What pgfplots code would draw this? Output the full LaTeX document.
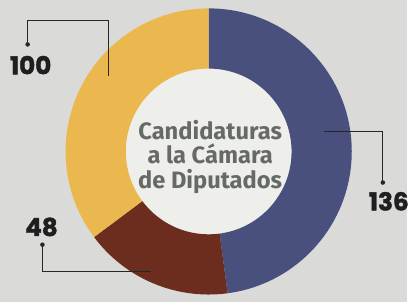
\documentclass[border=0pt]{standalone}
\usepackage{pgfplots}
\pgfplotsset{compat=1.18}
\usepackage{pgfplotstable}
\usepackage{fontspec}
\setmainfont{Fira Sans}
\newfontfamily\numfont[BoldFeatures={FakeBold=1.6}]{Poppins}
\definecolor{cblue}{RGB}{74,80,126}
\definecolor{cbrown}{RGB}{108,44,30}
\definecolor{cyellow}{RGB}{234,184,78}
\definecolor{bg}{RGB}{218,218,216}
\definecolor{hole}{RGB}{238,239,235}
\definecolor{ctxt}{RGB}{102,106,102}
\pgfplotstableread{
label value
136 136
48 48
100 100
}\datatable
\newcommand\donutseg[3]{%
  \fill[#3] ([shift={(axis cs:211.5,152.5)}]#1:145pt) arc[start angle=#1,end angle=#2,radius=145pt]
    -- ([shift={(axis cs:211.5,152.5)}]#2:84pt) arc[start angle=#2,end angle=#1,radius=84pt] -- cycle;}
\begin{document}
\begin{tikzpicture}
\pgfplotstablegetelem{0}{value}\of\datatable\let\va\pgfplotsretval
\pgfplotstablegetelem{1}{value}\of\datatable\let\vb\pgfplotsretval
\pgfplotstablegetelem{2}{value}\of\datatable\let\vc\pgfplotsretval
\pgfmathsetmacro\tot{\va+\vb+\vc}
\pgfmathsetmacro\aA{90}
\pgfmathsetmacro\aB{90-360*(\va/\tot)}
\pgfmathsetmacro\aC{\aB-360*(\vb/\tot)}
\pgfmathsetmacro\aD{\aC-360*(\vc/\tot)}
\begin{axis}[scale only axis, width=412pt, height=306pt,
  xmin=0, xmax=412, ymin=0, ymax=306, hide axis, clip=false]
\fill[bg] (axis cs:0,0) rectangle (axis cs:412,306);
\fill[hole] (axis cs:211.5,152.5) circle[radius=85pt];
\donutseg{\aA}{\aB}{cblue}
\donutseg{\aB}{\aC}{cbrown}
\donutseg{\aC}{\aD}{cyellow}
\node[align=center, text=ctxt, font=\bfseries\fontsize{24}{24.5}\selectfont] at (axis cs:213,147) {Candidaturas\\a la Cámara\\de Diputados};
\draw[line width=1.3pt, black!85] (axis cs:28,261) |- (axis cs:110,285) -- (axis cs:110,229);
\fill[black!85] (axis cs:28,261) circle[radius=2.3pt];
\draw[line width=1.3pt, black!85] (axis cs:328,173) -| (axis cs:388,121);
\fill[black!85] (axis cs:388,121) circle[radius=2.3pt];
\draw[line width=1.3pt, black!85] (axis cs:43,58) |- (axis cs:153,31);
\fill[black!85] (axis cs:43,58) circle[radius=2.3pt];
\node[font=\numfont\bfseries\fontsize{25}{25}\selectfont, text=black!88] at (axis cs:31,240) {100};
\node[font=\numfont\bfseries\fontsize{25}{25}\selectfont, text=black!88] at (axis cs:394,102) {136};
\node[font=\numfont\bfseries\fontsize{25}{25}\selectfont, text=black!88] at (axis cs:42,76) {48};
\end{axis}
\end{tikzpicture}
\end{document}
